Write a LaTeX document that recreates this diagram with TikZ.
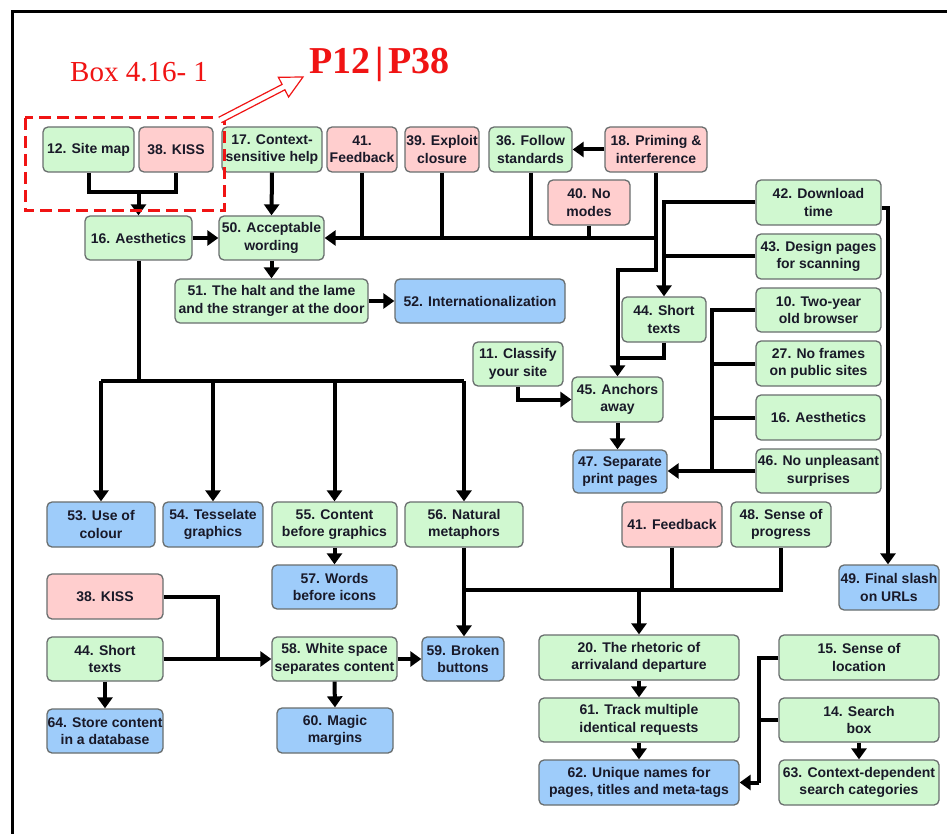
\documentclass[tikz,border=0pt]{standalone}
\usepackage{fontspec}
\setmainfont{Liberation Sans}
\newfontfamily\redserif{Liberation Serif}
\usetikzlibrary{arrows.meta}
\definecolor{boxgreen}{RGB}{208,248,208}
\definecolor{boxpink}{RGB}{255,206,206}
\definecolor{boxblue}{RGB}{158,204,250}
\definecolor{boxline}{RGB}{105,110,110}
\definecolor{boxtext}{RGB}{25,25,40}
\definecolor{markred}{RGB}{240,20,20}
\begin{document}
\begin{tikzpicture}[x=1pt,y=-1pt,
  box/.style={draw=boxline, line width=1.3pt, rounded corners=5pt, inner sep=0pt,
    align=center, text=boxtext, font=\fontsize{14}{17.5}\selectfont\bfseries},
  gbox/.style={box, fill=boxgreen},
  pbox/.style={box, fill=boxpink},
  bbox/.style={box, fill=boxblue},
  sz/.style 2 args={minimum width=#1pt, minimum height=#2pt},
  wire/.style={line width=4pt, draw=black},
  arr/.style={wire, -{Triangle[width=15pt,length=11pt]}},
]
\useasboundingbox (0,0) rectangle (947,834);
\fill[white] (0,0) rectangle (947,834);

% page frame
\draw[line width=3pt] (12,834) -- (12,12) -- (947,12);

% ---- top row
\node[gbox, sz={91}{45}]  (n12)  at (88.5,149.5) {12. Site map};
\node[pbox, sz={74}{45}]  (n38a) at (176,149.5)  {38. KISS};
\node[gbox, sz={100}{45}] (n17)  at (272,149.5)  {17. Context-\\sensitive help};
\node[pbox, sz={70}{45}]  (n41a) at (362,149.5)  {41.\\Feedback};
\node[pbox, sz={74}{45}]  (n39)  at (442,149.5)  {39. Exploit\\closure};
\node[gbox, sz={83}{45}]  (n36)  at (530.5,149.5) {36. Follow\\standards};
\node[pbox, sz={102}{45}] (n18)  at (656,149.5)  {18. Priming \&\\interference};
\node[pbox, sz={82}{45}]  (n40)  at (589,202.5)  {40. No\\modes};

% ---- right column
\node[gbox, sz={125}{45}] (n42)  at (818.5,202.5) {42. Download\\time};
\node[gbox, sz={125}{45}] (n43)  at (818.5,256.5) {43. Design pages\\for scanning};
\node[gbox, sz={125}{44}] (n10)  at (818.5,310)   {10. Two-year\\old browser};
\node[gbox, sz={125}{45}] (n27)  at (818.5,363.5) {27. No frames\\on public sites};
\node[gbox, sz={125}{45}] (n16b) at (818.5,417.5) {16. Aesthetics};
\node[gbox, sz={125}{44}] (n46)  at (818.5,471)   {46. No unpleasant\\surprises};

% ---- second tier
\node[gbox, sz={107}{44}] (n16a) at (138.5,238)  {16. Aesthetics};
\node[gbox, sz={105}{44}] (n50)  at (271.5,238)  {50. Acceptable\\wording};
\node[gbox, sz={193}{44}] (n51)  at (271.5,301)  {51. The halt and the lame\\and the stranger at the door};
\node[bbox, sz={170}{44}] (n52)  at (480,301)    {52. Internationalization};
\node[gbox, sz={84}{45}]  (n44a) at (664,319.5)  {44. Short\\texts};
\node[gbox, sz={90}{44}]  (n11)  at (518,364)    {11. Classify\\your site};
\node[gbox, sz={91}{45}]  (n45)  at (617.5,399.5) {45. Anchors\\away};
\node[bbox, sz={94}{43}]  (n47)  at (620,471.5)  {47. Separate\\print pages};

% ---- lower rows
\node[bbox, sz={108}{45}] (n53)  at (101,524.5)  {53. Use of\\colour};
\node[bbox, sz={100}{45}] (n54)  at (213,524.5)  {54. Tesselate\\graphics};
\node[gbox, sz={125}{45}] (n55)  at (334.5,524.5) {55. Content\\before graphics};
\node[gbox, sz={118}{45}] (n56)  at (464,524.5)  {56. Natural\\metaphors};
\node[pbox, sz={100}{45}] (n41b) at (672,524.5)  {41. Feedback};
\node[gbox, sz={100}{45}] (n48)  at (781,524.5)  {48. Sense of\\progress};
\node[bbox, sz={100}{45}] (n49)  at (889,587.5)  {49. Final slash\\on URLs};
\node[bbox, sz={125}{44}] (n57)  at (334.5,587)  {57. Words\\before icons};
\node[pbox, sz={116}{45}] (n38b) at (105,596.5)  {38. KISS};
\node[gbox, sz={116}{44}] (n44b) at (105,659)    {44. Short\\texts};
\node[gbox, sz={125}{44}] (n58)  at (334.5,659)  {58. White space\\separates content};
\node[bbox, sz={82}{44}]  (n59)  at (463,659)    {59. Broken\\buttons};
\node[gbox, sz={200}{45}] (n20)  at (639,657.5)  {20. The rhetoric of\\arrivaland departure};
\node[gbox, sz={160}{45}] (n15)  at (859,657.5)  {15. Sense of\\location};
\node[bbox, sz={116}{44}] (n64)  at (105,731)    {64. Store content\\in a database};
\node[bbox, sz={116}{45}] (n60)  at (335,730.5)  {60. Magic\\margins};
\node[gbox, sz={200}{44}] (n61)  at (639,720)    {61. Track multiple\\identical requests};
\node[gbox, sz={160}{44}] (n14)  at (859,720)    {14. Search\\box};
\node[bbox, sz={200}{45}] (n62)  at (639,782.5)  {62. Unique names for\\pages, titles and meta-tags};
\node[gbox, sz={160}{45}] (n63)  at (859,782.5)  {63. Context-dependent\\search categories};

% ---- junction points of the bus lines
\coordinate (j1)  at (138.5,192);
\coordinate (jb)  at (656,238);
\coordinate (j2)  at (656,270);
\coordinate (j3)  at (617.5,358);
\coordinate (j4)  at (888,208);
\coordinate (j5)  at (138.5,381);
\coordinate (j6)  at (712,471);
\coordinate (j7)  at (218,659);
\coordinate (j8)  at (464,590);
\coordinate (j9)  at (639,590);
\coordinate (j10) at (759,782.5);

% ---- connectors
\draw[wire] (n12.south) |- (j1) -| (n38a.south);
\draw[arr] (j1) -- (n16a.north);
\draw[arr] (n16a.east) -- (n50.west);
\draw[arr] (n17.south) -- (n50.north);

\draw[arr] (jb) -- (n50.east);
\draw[wire] (n18.south) -- (jb);
\foreach \n in {n41a,n39,n36,n40} \draw[wire] (\n.south) -- (\n.south |- jb);
\draw[arr] (n18.west) -- (n36.east);
\draw[arr] (jb) -- (j2) -| (n45.north);
\draw[wire] (n44a.south) |- (j3);

\draw[arr] (n42.west) -| (n44a.north);
\draw[wire] (n43.west) -- (n43.west -| n44a.north);
\draw[arr] (n42.east |- j4) -- (j4) -- (j4 |- n49.north);

\draw[arr] (n50.south) -- (n51.north);
\draw[arr] (n51.east) -- (n52.west);

\draw[wire] (n16a.south) -- (j5);
\draw[wire] (n53.north |- j5) -- (n56.north |- j5);
\foreach \n in {n53,n54,n55,n56} \draw[arr] (\n.north |- j5) -- (\n.north);

\draw[arr] (n11.south) |- (n45.west);
\draw[arr] (n45.south) -- (n45.south |- n47.north);

\draw[wire] (n10.west) -| (j6);
\draw[wire] (n27.west) -- (n27.west -| j6);
\draw[wire] (n16b.west) -- (n16b.west -| j6);
\draw[arr] (n46.west) -- (n46.west -| n47.east);

\draw[arr] (n55.south) -- (n57.north);
\draw[wire] (n38b.east) -| (j7);
\draw[arr] (n44b.east) -- (n58.west);
\draw[arr] (n44b.south) -- (n64.north);
\draw[arr] (n58.east) -- (n59.west);
\draw[arr] (n58.south) -- (n60.north);

\draw[arr] (n56.south) -- (n56.south |- n59.north);
\draw[wire] (j8) -| (n48.south);
\draw[wire] (n41b.south) -- (n41b.south |- j8);
\draw[arr] (j9) -- (n20.north);
\draw[arr] (n20.south) -- (n61.north);
\draw[arr] (n61.south) -- (n62.north);

\draw[wire] (n15.west) -| (j10);
\draw[wire] (n14.west) -- (n14.west -| j10);
\draw[arr] (j10) -- (n62.east);
\draw[arr] (n14.south) -- (n63.north);

% ---- red markup
\draw[markred, line width=3pt, dash pattern=on 12pt off 6pt] (25,118) rectangle (224,211);
\draw[markred, line width=1.2pt, fill=white]
  (221.4,122.7) -- (284.9,89.8) -- (288.6,97.0) -- (303,77)
  -- (278.4,77.3) -- (282.1,84.4) -- (218.6,117.3);
\node[anchor=base west, inner sep=0pt, text=markred, font=\redserif\fontsize{29}{32}\selectfont]
  (boxlabel) at (70,82) {Box 4.16- 1};
\node[anchor=base west, inner sep=0pt, text=markred, font=\redserif\bfseries\fontsize{38}{40}\selectfont]
  (pagelabel) at (309,74) {P12\kern5pt|\kern5pt P38};
\end{tikzpicture}
\end{document}
